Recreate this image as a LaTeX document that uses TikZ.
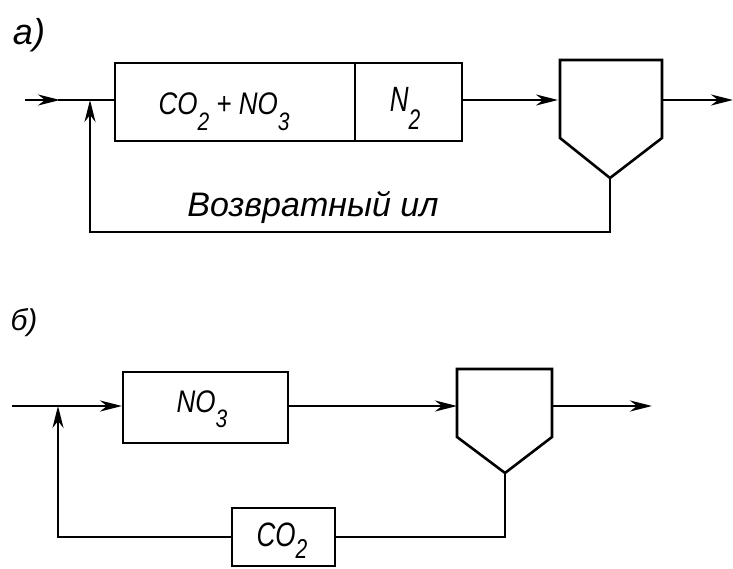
\documentclass[tikz,border=0pt]{standalone}
\usepackage{fontspec}
\setmainfont{Liberation Sans}
\usetikzlibrary{arrows.meta}
\newcommand{\sbs}[1]{\raisebox{-0.5em}{\fontsize{21}{21}\selectfont #1}}
\newcommand{\sbt}[1]{\raisebox{-0.38em}{\fontsize{21}{21}\selectfont #1}}
\newcommand{\vs}[2]{\scalebox{1}[#1]{#2}}
\tikzset{
  ln/.style={line width=2.6pt, line join=miter},
  arr/.style={ln, -{Stealth[length=22pt,width=11pt,inset=7pt]}},
  lbl/.style={font=\fontsize{36}{36}\selectfont\itshape, inner sep=0pt, anchor=base},
  boxtxt/.style={font=\fontsize{26}{26}\selectfont\itshape, inner sep=0pt, anchor=base}
}
\begin{document}
\begin{tikzpicture}[x=1pt,y=-1pt]
\useasboundingbox (0,0) rectangle (733,569);
% ---------- a) ----------
\node[lbl] (la) at (29,45) {a)};
\draw[ln] (115,63) rectangle (462,141);
\draw[ln] (355,63) -- (355,141);
\node[boxtxt] (t1) at (224,115) {\vs{1.2}{CO\sbs{2} + NO\sbs{3}}};
\node[boxtxt] (t2) at (405,112) {\vs{1.35}{N\sbs{2}}};
\coordinate (a1r) at (462,100);
\coordinate (ain) at (25,100);
\coordinate (ajn) at (90,100);
\coordinate (a1l) at (115,100);
% settler a
\draw[ln] (560,60) -- (662,60) -- (662,138) -- (610,178) -- (560,138) -- cycle;
\coordinate (asl) at (560,100);
\coordinate (asr) at (662,100);
\coordinate (aap) at (610,178);
\coordinate (aout) at (733,100);
\draw[arr] (ain) -- (60,100);
\draw[ln] (58,100) -- (a1l);
\draw[arr] (a1r) -- (558,100);
\draw[arr] (asr) -- (aout);
\draw[ln] (aap) -- (610,232) -- (90,232) -- (90,130);
\draw[arr] (90,135) -- (ajn);
\node[lbl, font=\fontsize{34}{34}\selectfont\itshape] (ret) at (313,217) {Возвратный ил};
% ---------- b) ----------
\node[lbl, font=\fontsize{30}{30}\selectfont\itshape] (lb) at (24,330) {б)};
\node[draw, ln, minimum width=165pt, minimum height=71pt, inner sep=0pt] (b1) at (205.5,407.5) {};
\node[boxtxt] (t3) at (202,412) {\vs{1.2}{NO\sbs{3}}};
\draw[ln] (457,369) -- (552,369) -- (552,437) -- (505,473) -- (457,437) -- cycle;
\coordinate (bsl) at (457,406);
\coordinate (bsr) at (552,406);
\coordinate (bap) at (505,473);
\coordinate (bout) at (652,406);
\coordinate (bin) at (12,406);
\coordinate (bjn) at (58,406);
\draw[arr] (bin) -- (122,406);
\draw[arr] (b1.east |- bsl) -- (bsl);
\draw[arr] (bsr) -- (bout);
\node[draw, ln, minimum width=103pt, minimum height=58pt, inner sep=0pt] (b2) at (283.5,537) {};
\node[boxtxt] (t4) at (282,546) {\vs{1.3}{CO\sbt{2}}};
\draw[ln] (bap) -- (505,537) -- (b2.east);
\draw[ln] (b2.west) -- (58,537) -- (58,440);
\draw[arr] (58,445) -- (bjn);
\end{tikzpicture}
\end{document}
